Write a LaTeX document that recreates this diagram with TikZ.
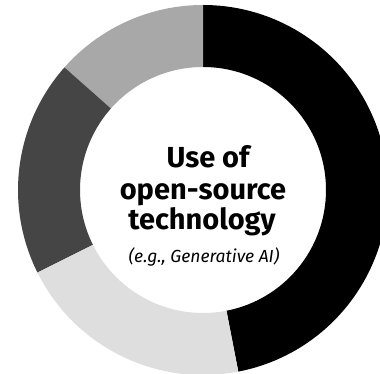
\documentclass[tikz,border=0pt]{standalone}
\usepackage{fontspec}
\setmainfont{Fira Sans}
\usepackage{tikz}

\definecolor{blackpart}{gray}{0.0}
\definecolor{lightpart}{gray}{0.87}
\definecolor{darkpart}{gray}{0.27}
\definecolor{midpart}{gray}{0.66}

% ring piece: start angle, end angle, colour
\newcommand{\ringpart}[3]{%
  \fill[#3] (#1:185) arc[start angle=#1, end angle=#2, radius=185]
    -- (#2:123) arc[start angle=#2, end angle=#1, radius=123] -- cycle;}

\begin{document}
\begin{tikzpicture}[x=1pt, y=1pt]
\tikzstyle{title} = [font=\bfseries\fontsize{29}{31}\selectfont, anchor=base, inner sep=0pt]
\tikzstyle{note} = [font=\itshape\fontsize{17.5}{19}\selectfont, anchor=base, inner sep=0pt]
\useasboundingbox (0,0) rectangle (380,374);
\clip (0,0) rectangle (380,374);

\begin{scope}[shift={(203,184)}]
\ringpart{-79}{90}{blackpart}
\ringpart{90}{138.5}{midpart}
\ringpart{138.5}{206.5}{darkpart}
\ringpart{206.5}{281}{lightpart}
\end{scope}

\node[title] (line1) at (208,206) {Use of};
\node[title] (line2) at (203,174) {open-source};
\node[title] (line3) at (202,144) {technology};
\node[note] (example) at (204,111) {(e.g., Generative AI)};
\end{tikzpicture}
\end{document}
